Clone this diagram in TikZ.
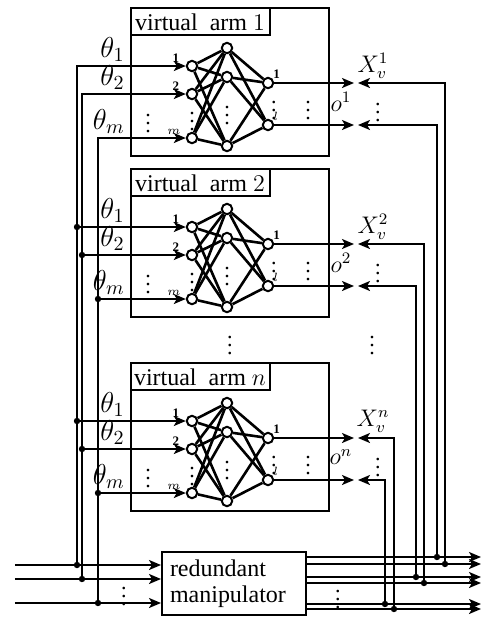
\documentclass[tikz,border=0pt]{standalone}
\usepackage{fontspec}
\setmainfont{Liberation Serif}
\usepackage{amsmath}
\usetikzlibrary{arrows.meta, calc}

\begin{document}
\begin{tikzpicture}[
    x=0.5pt, y=-0.5pt,
    wire/.style={line width=1pt, line cap=rect},
    arrow/.style={-{Stealth[length=6pt,width=5pt,inset=1.5pt]}, line width=1pt},
    neuron/.style={draw, circle, fill=white, line width=1pt, inner sep=0pt, minimum size=5.2pt},
    link/.style={line width=1.3pt},
    frame/.style={line width=1pt},
    junction/.style={circle, fill, inner sep=0pt, minimum size=3.2pt},
    tiny/.style={font=\fontsize{6.5}{7}\selectfont\bfseries, inner sep=0.5pt},
    lbl/.style={font=\fontsize{12}{13}\selectfont, inner sep=1pt},
    theta/.style={font=\fontsize{14}{15}\selectfont, inner sep=1pt, anchor=south east},
    dots/.style={font=\fontsize{11}{12}\selectfont\boldmath, inner sep=0pt}
]
  \useasboundingbox (0,0) rectangle (482,618);

  % Virtual arms
  \foreach \k/\T/\lab/\ra/\rb/\qa/\qb in {1/8/1/445/437/564/557,
      2/169/2/424/416/583/577, 3/363/n/394/385/609/604}{
    \draw[frame] (131,\T) rectangle (329,\T+148);
    \draw[frame] (131,\T) rectangle (270,\T+27);
    \node[lbl, font=\fontsize{12}{13}\selectfont] (t\k) at (200,\T+14) {virtual~~arm $\lab$};

    % Nodes
    \node[neuron] (i\k-1) at (192,\T+58) {};
    \node[neuron] (i\k-2) at (192,\T+86) {};
    \node[neuron] (i\k-3) at (192,\T+130) {};
    \node[neuron] (h\k-1) at (227,\T+40) {};
    \node[neuron] (h\k-2) at (227,\T+69) {};
    \node[neuron] (h\k-3) at (227,\T+138) {};
    \node[neuron] (o\k-1) at (268,\T+75) {};
    \node[neuron] (o\k-2) at (268,\T+117) {};
    \foreach \a in {1,2,3}{
      \foreach \b in {1,2,3} \draw[link] (i\k-\a) -- (h\k-\b);
      \foreach \b in {1,2} \draw[link] (h\k-\a) -- (o\k-\b);
    }

    % Inputs
    \coordinate (l\k-1) at (77,\T+58);
    \coordinate (l\k-2) at (82,\T+86);
    \coordinate (l\k-3) at (98,\T+130);
    \foreach \a in {1,2,3} \draw[arrow] (l\k-\a) -- (i\k-\a);
    \ifnum\k>1
      \foreach \a in {1,2,3} \node[junction] (jl\k-\a) at (l\k-\a) {};
    \fi
    \node[theta] (th\k-1) at (127,\T+56) {$\theta_1$};
    \node[theta] (th\k-2) at (127,\T+84) {$\theta_2$};
    \node[theta] (th\k-3) at (127,\T+128) {$\theta_m$};
    \node[tiny, anchor=south] (n\k-1) at (176,\T+56) {1};
    \node[tiny, anchor=south] (n\k-2) at (176,\T+84) {2};
    \node[tiny, anchor=south] (n\k-3) at (174,\T+128) {$m$};

    % Outputs and feedback
    \coordinate (x\k-1) at (354,\T+75);
    \coordinate (x\k-2) at (354,\T+117);
    \coordinate (y\k-1) at (358,\T+75);
    \coordinate (y\k-2) at (358,\T+117);
    \coordinate (q\k-1) at (\ra,\qa);
    \coordinate (q\k-2) at (\rb,\qb);
    \draw[arrow] (o\k-1) -- (x\k-1);
    \draw[arrow] (o\k-2) -- (x\k-2);
    \draw[arrow] (q\k-1) -- (\ra,\T+75) -- (y\k-1);
    \draw[arrow] (q\k-2) -- (\rb,\T+117) -- (y\k-2);
    \node[junction] (jq\k-1) at (q\k-1) {};
    \node[junction] (jq\k-2) at (q\k-2) {};
    \node[tiny, anchor=south west] (m\k-1) at (272,\T+72) {1};
    \node[tiny, anchor=south west] (m\k-2) at (272,\T+114) {$l$};
    \node[lbl] (X\k) at (373,\T+58) {$X_v^{\lab}$};
    \node[lbl] (s\k) at (341,\T+94) {$o^{\lab}$};

    % Dots
    \node[dots] (d\k-1) at (148,\T+110) {$\vdots$};
    \node[dots] (d\k-2) at (192,\T+108) {$\vdots$};
    \node[dots] (d\k-3) at (227,\T+102) {$\vdots$};
    \node[dots] (d\k-4) at (274,\T+97) {$\vdots$};
    \node[dots] (d\k-5) at (308,\T+97) {$\vdots$};
    \node[dots] (d\k-6) at (378,\T+99) {$\vdots$};
  }
  \node[dots] (gap1) at (230,340) {$\vdots$};
  \node[dots] (gap2) at (372,340) {$\vdots$};

  % Redundant manipulator
  \node[draw, frame, lbl, text width=64pt, inner sep=4pt, minimum height=31.5pt,
        align=left] (man) at (234,583.5) {redundant\\manipulator};
  \coordinate (s1) at (15,565);
  \coordinate (s2) at (15,579);
  \coordinate (s3) at (15,603);
  \coordinate (b1) at (77,565);
  \coordinate (b2) at (82,579);
  \coordinate (b3) at (98,603);
  \foreach \a in {1,2,3}{
    \draw[arrow] (s\a) -- (s\a -| man.west);
    \draw[wire] (l1-\a) -- (b\a);
    \node[junction] (jb\a) at (b\a) {};
  }
  \foreach \y in {557,564,577,583,604,609}{
    \coordinate (e\y) at (481,\y);
    \draw[arrow] (e\y -| man.east) -- (e\y);
  }
  \node[dots] (din) at (124,591) {$\vdots$};
  \node[dots] (dout) at (338,594) {$\vdots$};
\end{tikzpicture}
\end{document}
